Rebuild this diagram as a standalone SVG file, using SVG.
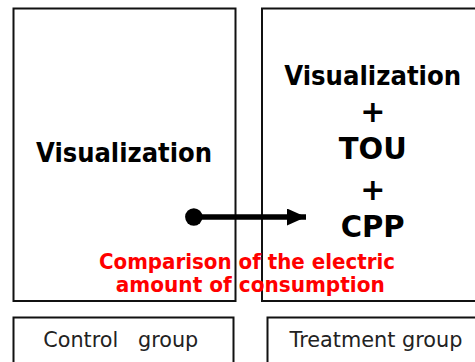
<svg xmlns="http://www.w3.org/2000/svg" width="475" height="362" viewBox="0 0 475 362">
  <defs>
    <style>
      .box { fill: #fff; stroke: #111; stroke-width: 2; }
      .bold { font-family: "DejaVu Sans", Verdana, sans-serif; font-weight: bold; fill: #000; text-anchor: middle; }
      .label { font-family: "DejaVu Sans", Verdana, sans-serif; font-size: 22px; fill: #222; text-anchor: middle; }
      .note { font-family: "DejaVu Sans", Verdana, sans-serif; font-weight: bold; font-size: 22px; fill: #ff0000; text-anchor: middle; }
      .conn { stroke: #000; stroke-width: 5.5; fill: none; }
    </style>
    <marker id="head" markerUnits="userSpaceOnUse" viewBox="0 0 19 17" refX="19" refY="8.5" markerWidth="19" markerHeight="17" orient="auto">
      <path d="M0,0 L19,8.5 L0,17 Z" fill="#000"/>
    </marker>
  </defs>

  <rect width="475" height="362" fill="#fff"/>

  <g id="control">
    <rect class="box" x="13.5" y="8.5" width="222" height="292.5"/>
    <text class="bold" x="124" y="161.5" font-size="26" textLength="176" lengthAdjust="spacingAndGlyphs">Visualization</text>
  </g>

  <g id="treatment">
    <rect class="box" x="262" y="8.5" width="220" height="292.5"/>
    <text class="bold" x="372.7" y="85" font-size="26" textLength="177" lengthAdjust="spacingAndGlyphs">Visualization</text>
    <text class="bold" x="372.7" y="121.5" font-size="30">+</text>
    <text class="bold" x="372.7" y="159.3" font-size="31" textLength="68" lengthAdjust="spacingAndGlyphs">TOU</text>
    <text class="bold" x="372.7" y="199.5" font-size="30">+</text>
    <text class="bold" x="372.7" y="236.7" font-size="31" textLength="64" lengthAdjust="spacingAndGlyphs">CPP</text>
  </g>

  <g id="control-label">
    <rect class="box" x="13.5" y="317.5" width="220" height="60"/>
    <text class="label" x="120.8" y="346.7" xml:space="preserve" textLength="155" lengthAdjust="spacingAndGlyphs">Control   group</text>
  </g>

  <g id="treatment-label">
    <rect class="box" x="267.5" y="317.5" width="220" height="60"/>
    <text class="label" x="376" y="346.7" textLength="173" lengthAdjust="spacingAndGlyphs">Treatment group</text>
  </g>

  <g id="connectors">
    <circle cx="193.8" cy="217" r="8.7" fill="#000"/>
    <line class="conn" x1="193.8" y1="217" x2="306" y2="217" marker-end="url(#head)"/>
  </g>

  <g id="comparison-note">
    <text class="note" x="247" y="269" textLength="296" lengthAdjust="spacingAndGlyphs">Comparison of the electric</text>
    <text class="note" x="250.3" y="292.3" textLength="269" lengthAdjust="spacingAndGlyphs">amount of consumption</text>
  </g>
</svg>
